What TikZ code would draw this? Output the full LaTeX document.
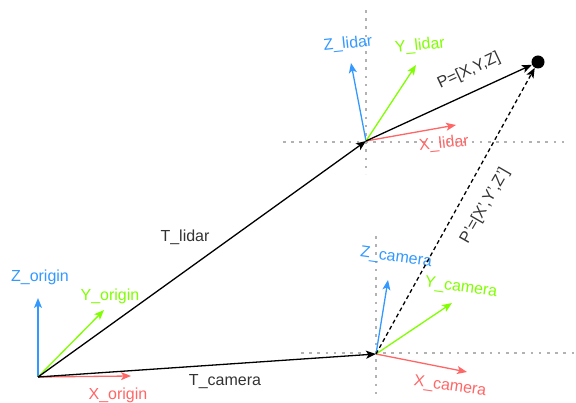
\documentclass[tikz,border=0pt]{standalone}
\usepackage{fontspec}
\setmainfont{Liberation Sans}
\usetikzlibrary{arrows.meta}

\definecolor{axisx}{HTML}{FF6666}
\definecolor{axisy}{HTML}{80FF00}
\definecolor{axisz}{HTML}{3399FF}
\definecolor{labelgray}{HTML}{333333}

\tikzset{
	vec/.style={line width=1.3pt, -{Stealth[length=10pt,width=8pt,inset=2.5pt]}},
	xaxis/.style={vec, color=axisx},
	yaxis/.style={vec, color=axisy},
	zaxis/.style={vec, color=axisz},
	grid line/.style={line width=2.6pt, color=black!30, dash pattern=on 2.6pt off 5.6pt},
	lbl/.style={font=\fontsize{16}{18}\selectfont, inner sep=1pt},
}

\begin{document}
\begin{tikzpicture}[x=1pt, y=-1pt]
			%%%%% START %%%%%
			\useasboundingbox (0, 0) rectangle (576, 403);
			
			\coordinate (origin) at (38, 377);
			\coordinate (lidar) at (366, 141);
			\coordinate (camera) at (376, 354);
			\node[circle, fill=black, inner sep=0pt, minimum size=13pt] (P) at (538, 62) {};
			
			% dotted cross hairs of the two sensors
			\draw[grid line] (366, 10) -- (366, 174);
			\draw[grid line] (283, 142) -- (568, 142);
			\draw[grid line] (376, 236) -- (376, 398);
			\draw[grid line] (301, 353) -- (574, 353);
			
			% origin frame
			\draw[zaxis] (origin) -- (38, 298);
			\draw[yaxis] (origin) -- (104, 310);
			\draw[xaxis] (origin) -- (131, 376);
			\node[lbl, color=axisz] (zo) at (40, 277) {Z\_origin};
			\node[lbl, color=axisy] (yo) at (110, 296) {Y\_origin};
			\node[lbl, color=axisx] (xo) at (118, 395) {X\_origin};
			
			% translations
			\draw[vec] (origin) -- (lidar);
			\draw[vec] (origin) -- (camera);
			\node[lbl, color=labelgray] (tl) at (185, 237) {T\_lidar};
			\node[lbl, color=labelgray] (tc) at (225, 382) {T\_camera};
			
			% lidar frame
			\draw[zaxis] (lidar) -- (351, 63);
			\draw[yaxis] (lidar) -- (416, 65);
			\draw[xaxis] (lidar) -- (456, 125);
			\node[lbl, color=axisz, rotate=6] (zl) at (348, 44) {Z\_lidar};
			\node[lbl, color=axisy, rotate=6] (yl) at (420, 46) {Y\_lidar};
			\node[lbl, color=axisx, rotate=6] (xl) at (444, 144) {X\_lidar};
			
			% camera frame
			\draw[zaxis] (camera) -- (388, 280);
			\draw[yaxis] (camera) -- (452, 303);
			\draw[xaxis] (camera) -- (467, 372);
			\node[lbl, color=axisz, rotate=-8] (zc) at (396, 258) {Z\_camera};
			\node[lbl, color=axisy, rotate=-8] (yc) at (461, 288) {Y\_camera};
			\node[lbl, color=axisx, rotate=-8] (xc) at (450, 387) {X\_camera};
			
			% the point seen from both sensors
			\draw[vec] (lidar) -- (P);
			\draw[vec, dash pattern=on 4pt off 3pt] (camera) -- (P);
			\node[lbl, color=labelgray, rotate=25] (pl) at (469, 71) {P=[X,Y,Z]};
			\node[lbl, color=labelgray, rotate=60] (pc) at (485, 206) {P'=[X',Y',Z']};
			%%%%% END %%%%%
\end{tikzpicture}
\end{document}
